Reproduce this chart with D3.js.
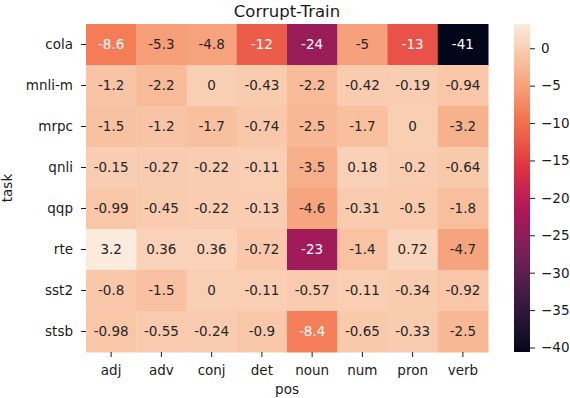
<!DOCTYPE html>
<html>
<head>
<meta charset="utf-8">
<script src="https://cdn.jsdelivr.net/npm/d3@7"></script>
<style>
  body { margin: 0; background: #fff; }
  text { font-family: "DejaVu Sans", sans-serif; }
</style>
</head>
<body>
<div id="chart"></div>
<script>
// rows (task) and columns (pos)
const tasks = ["cola", "mnli-m", "mrpc", "qnli", "qqp", "rte", "sst2", "stsb"];
const posTags = ["adj", "adv", "conj", "det", "noun", "num", "pron", "verb"];

// one array per task, values in posTags order
const cola  = [-8.6, -5.3, -4.8, -12, -24, -5, -13, -40.6];
const mnliM = [-1.2, -2.2, 0, -0.43, -2.2, -0.42, -0.19, -0.94];
const mrpc  = [-1.5, -1.2, -1.7, -0.74, -2.5, -1.7, 0, -3.2];
const qnli  = [-0.15, -0.27, -0.22, -0.11, -3.5, 0.18, -0.2, -0.64];
const qqp   = [-0.99, -0.45, -0.22, -0.13, -4.6, -0.31, -0.5, -1.8];
const rte   = [3.24, 0.36, 0.36, -0.72, -23, -1.4, 0.72, -4.7];
const sst2  = [-0.8, -1.5, 0, -0.11, -0.57, -0.11, -0.34, -0.92];
const stsb  = [-0.98, -0.55, -0.24, -0.9, -8.4, -0.65, -0.33, -2.5];

const colorbarTicks = [0, -5, -10, -15, -20, -25, -30, -35, -40];

const rows = [cola, mnliM, mrpc, qnli, qqp, rte, sst2, stsb];
const cells = [];
rows.forEach((r, i) => r.forEach((v, j) => cells.push({task: tasks[i], pos: posTags[j], value: v})));

const width = 570, height = 398;
const mLeft = 86, mRight = 488, mTop = 24, mBottom = 352;

const svg = d3.select("#chart").append("svg")
    .attr("width", width)
    .attr("height", height);

// approximation of seaborn "rocket"
const rocketStops = ["#03051a", "#35193e", "#701f57", "#ad1759", "#e13342", "#f37651", "#f6b48f", "#faebdd"];
const rocket = d3.scaleLinear()
    .domain(d3.range(rocketStops.length).map(i => i / (rocketStops.length - 1)))
    .range(rocketStops)
    .interpolate(d3.interpolateLab);

const extent = d3.extent(cells, d => d.value);
const color = d3.scaleSequential(t => rocket(t)).domain(extent);

const x = d3.scaleBand().domain(posTags).range([mLeft, mRight]);
const y = d3.scaleBand().domain(tasks).range([mTop, mBottom]);

// text colour like seaborn: dark on light cells, white on dark ones
function luminance(c) {
  const rgb = d3.rgb(c);
  const lin = [rgb.r, rgb.g, rgb.b].map(v => {
    v = v / 255;
    return v <= 0.03928 ? v / 12.92 : Math.pow((v + 0.055) / 1.055, 2.4);
  });
  return 0.2126 * lin[0] + 0.7152 * lin[1] + 0.0722 * lin[2];
}
const fmt = v => String(Number(v.toPrecision(2)));

const g = svg.append("g");
g.selectAll("rect")
    .data(cells)
    .enter()
    .append("rect")
    .attr("x", d => x(d.pos))
    .attr("y", d => y(d.task))
    .attr("width", x.bandwidth() + 0.5)
    .attr("height", y.bandwidth() + 0.5)
    .attr("fill", d => color(d.value));

g.selectAll("text")
    .data(cells)
    .enter()
    .append("text")
    .attr("x", d => x(d.pos) + x.bandwidth() / 2)
    .attr("y", d => y(d.task) + y.bandwidth() / 2)
    .attr("dy", "0.36em")
    .attr("text-anchor", "middle")
    .attr("font-size", "13.5px")
    .attr("fill", d => luminance(color(d.value)) > 0.408 ? "#262626" : "#ffffff")
    .text(d => fmt(d.value));

// axes
const xAxis = svg.append("g")
    .attr("transform", `translate(0,${mBottom})`)
    .call(d3.axisBottom(x).tickSize(5).tickPadding(8));
const yAxis = svg.append("g")
    .attr("transform", `translate(${mLeft},0)`)
    .call(d3.axisLeft(y).tickSize(5).tickPadding(8));
[xAxis, yAxis].forEach(a => {
  a.select(".domain").remove();
  a.selectAll("text").attr("font-size", "13.5px").attr("fill", "#1a1a1a").style("font-family", "DejaVu Sans");
  a.selectAll("line").attr("stroke", "#1a1a1a");
});

// axis labels and title
svg.append("text")
    .attr("x", (mLeft + mRight) / 2)
    .attr("y", 394)
    .attr("text-anchor", "middle")
    .attr("font-size", "13.5px")
    .attr("fill", "#1a1a1a")
    .text("pos");

svg.append("text")
    .attr("transform", `translate(12,${(mTop + mBottom) / 2}) rotate(-90)`)
    .attr("text-anchor", "middle")
    .attr("font-size", "13.5px")
    .attr("fill", "#1a1a1a")
    .text("task");

svg.append("text")
    .attr("x", (mLeft + mRight) / 2)
    .attr("y", 17)
    .attr("text-anchor", "middle")
    .attr("font-size", "16.5px")
    .attr("fill", "#1a1a1a")
    .text("Corrupt-Train");

// colorbar
const cbX = 514, cbW = 16;
const cbScale = d3.scaleLinear().domain(extent).range([mBottom, mTop]);

const grad = svg.append("defs").append("linearGradient")
    .attr("id", "cbgrad")
    .attr("x1", 0).attr("y1", 1).attr("x2", 0).attr("y2", 0);
d3.range(0, 1.0001, 0.02).forEach(t => {
  grad.append("stop")
      .attr("offset", t)
      .attr("stop-color", rocket(t));
});

svg.append("rect")
    .attr("x", cbX)
    .attr("y", mTop)
    .attr("width", cbW)
    .attr("height", mBottom - mTop)
    .attr("fill", "url(#cbgrad)");

const cbAxis = svg.append("g")
    .attr("transform", `translate(${cbX + cbW},0)`)
    .call(d3.axisRight(cbScale).tickValues(colorbarTicks).tickFormat(d3.format("d")).tickSize(5).tickPadding(6));
cbAxis.select(".domain").remove();
cbAxis.selectAll("text").attr("font-size", "13.5px").attr("fill", "#1a1a1a").style("font-family", "DejaVu Sans");
cbAxis.selectAll("line").attr("stroke", "#1a1a1a");
</script>
</body>
</html>
